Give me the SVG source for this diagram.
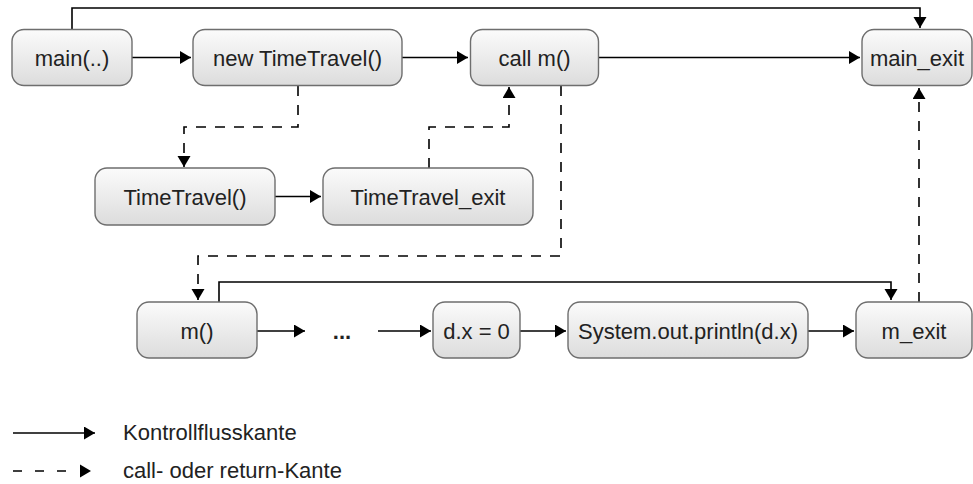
<svg xmlns="http://www.w3.org/2000/svg" width="973" height="484" viewBox="0 0 973 484">
<defs>
<linearGradient id="g" x1="0" y1="0" x2="0" y2="1">
<stop offset="0" stop-color="#fbfbfb"/>
<stop offset="1" stop-color="#dcdcdc"/>
</linearGradient>
<marker id="ah" markerUnits="userSpaceOnUse" markerWidth="12" markerHeight="14" refX="11" refY="6.5" orient="auto">
<path d="M0,0 L11,6.5 L0,13 z" fill="#000"/>
</marker>
<style>
.box{fill:url(#g);stroke:#6e6e6e;stroke-width:1.4}
.t{font-family:"Liberation Sans",Arial,sans-serif;font-size:22px;fill:#222;text-anchor:middle}
.lt{font-family:"Liberation Sans",Arial,sans-serif;font-size:22px;fill:#222}
.e{fill:none;stroke:#000;stroke-width:1.6}
.d{fill:none;stroke:#000;stroke-width:1.6;stroke-dasharray:10 9}
.a{marker-end:url(#ah)}
</style>
</defs>
<rect width="973" height="484" fill="#fff"/>
<g id="connectors">
<path class="e a" d="M72,29 V8 H920 V28"/>
<path class="e a" d="M132,57.5 H191"/>
<path class="e a" d="M402,57.5 H468"/>
<path class="e a" d="M599,57.5 H860"/>
<path class="d a" d="M298,86 V127 H184 V167"/>
<path class="e a" d="M275,196.5 H321"/>
<path class="d a" d="M429,168 V127 H509 V87"/>
<path class="d a" d="M561,86 V256 H198 V300"/>
<path class="e a" d="M219,302 V282 H891 V300"/>
<path class="e a" d="M257,331 H305"/>
<path class="e a" d="M378,331 H431"/>
<path class="e a" d="M520,331 H566"/>
<path class="e a" d="M808,331 H854"/>
<path class="d a" d="M919,302 V88"/>
<path class="e a" d="M13,433 H95"/>
<path d="M13,471 H66" fill="none" stroke="#000" stroke-width="1.6" stroke-dasharray="9 13"/>
<path d="M80,464.5 L91,471 L80,477.5 z" fill="#000"/>
</g>
<g id="n-main"><rect class="box" x="12" y="29.5" width="120" height="56" rx="12"/><text class="t" x="72" y="65.5">main(..)</text></g>
<g id="n-new"><rect class="box" x="193" y="29.5" width="209" height="56" rx="12"/><text class="t" x="297.5" y="65.5">new TimeTravel()</text></g>
<g id="n-callm"><rect class="box" x="470.5" y="29.5" width="128" height="56" rx="12"/><text class="t" x="534.5" y="65.5">call m()</text></g>
<g id="n-mainexit"><rect class="box" x="862" y="29.5" width="110" height="56" rx="12"/><text class="t" x="917" y="65.5">main_exit</text></g>
<g id="n-tt"><rect class="box" x="95" y="168" width="180" height="57" rx="12"/><text class="t" x="185" y="204.5">TimeTravel()</text></g>
<g id="n-ttexit"><rect class="box" x="323" y="168" width="210" height="57" rx="12"/><text class="t" x="428" y="204.5">TimeTravel_exit</text></g>
<g id="n-m"><rect class="box" x="137" y="302" width="120" height="56" rx="12"/><text class="t" x="197" y="338.5">m()</text></g>
<g id="n-dots"><text class="t" x="342" y="338.5" font-weight="bold">...</text></g>
<g id="n-dx"><rect class="box" x="433" y="302" width="87" height="56" rx="12"/><text class="t" x="476.5" y="338.5">d.x = 0</text></g>
<g id="n-print"><rect class="box" x="568" y="302" width="240" height="56" rx="12"/><text class="t" x="688" y="338.5">System.out.println(d.x)</text></g>
<g id="n-mexit"><rect class="box" x="856" y="302" width="116" height="56" rx="12"/><text class="t" x="914" y="338.5">m_exit</text></g>
<g id="legend">
<text class="lt" x="123" y="440">Kontrollflusskante</text>
<text class="lt" x="123" y="478">call- oder return-Kante</text>
</g>
</svg>
